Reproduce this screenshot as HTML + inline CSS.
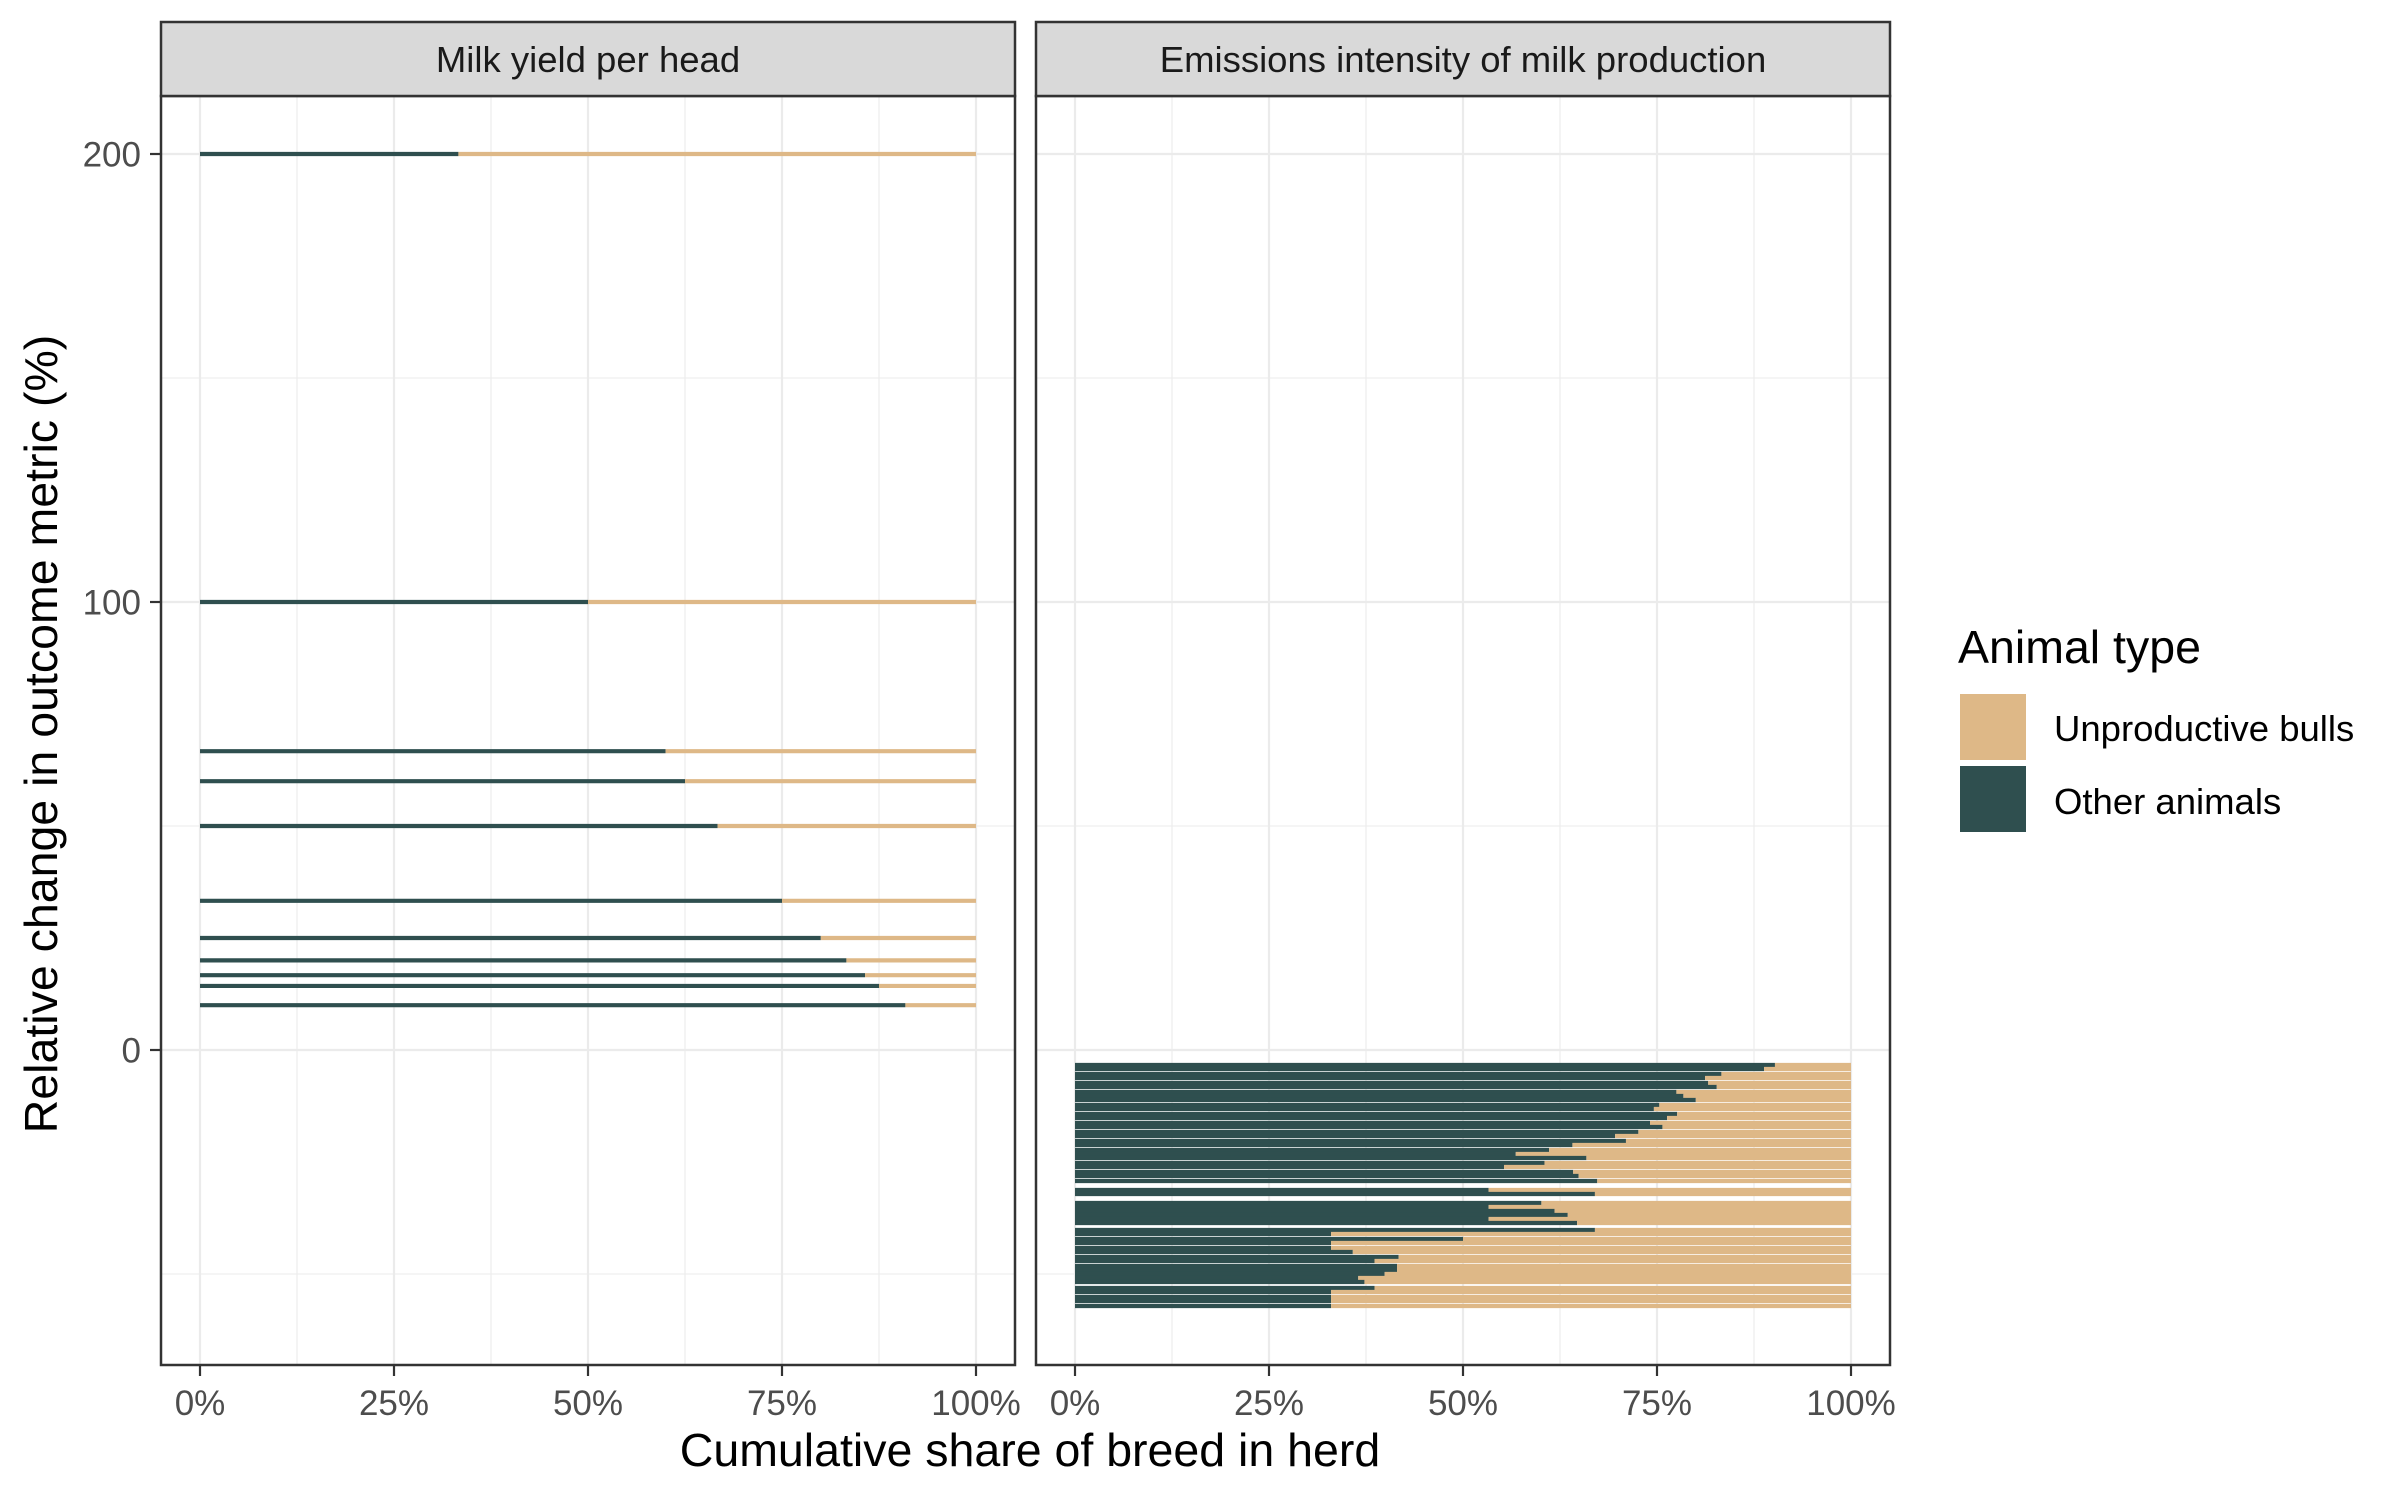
<!DOCTYPE html>
<html><head><meta charset="utf-8"><style>
html,body{margin:0;padding:0;background:#fff;}
svg{display:block;font-family:"Liberation Sans",Arial,sans-serif;}
</style></head><body>
<svg id="chart" width="2400" height="1500" viewBox="0 0 2400 1500"></svg>
<script>
// Left panel: milk yield per head
const milkValues = [200, 100, 66.7, 60, 50, 33.3, 25, 20, 16.7, 14.3, 10];
const milkShares = [33.3, 50, 60, 62.5, 66.7, 75, 80, 83.3, 85.7, 87.5, 90.9];
// Right panel: emissions intensity
const emisValues = [-3.35,-4.24,-5.36,-6.25,-7.37,-8.26,-9.38,-10.27,-11.16,-12.28,-13.17,-14.29,-15.18,-16.29,-17.19,-18.30,-19.20,-20.31,-21.21,-22.32,-23.21,-24.11,-25.22,-26.12,-27.23,-28.13,-29.24,-31.25,-32.14,-34.15,-35.04,-35.94,-36.83,-37.72,-38.62,-40.18,-41.07,-42.19,-43.08,-44.20,-45.09,-46.21,-47.10,-48.21,-49.11,-50.0,-50.89,-51.79,-53.13,-54.02,-55.13,-56.03,-57.14];
const emisShares = [90.2,88.8,83.3,81.2,81.6,82.7,77.5,78.4,80.0,75.3,74.6,77.6,76.3,74.1,75.7,72.6,69.6,71.0,64.1,61.1,56.8,65.9,60.5,55.3,64.2,64.9,67.3,53.3,67.0,60.1,53.3,61.8,63.5,53.3,64.7,67.0,33.0,50.0,33.0,33.0,35.8,41.7,38.6,41.5,41.5,39.9,36.5,37.3,38.6,33.0,33.0,33.0,33.0];
const xTicks = [0,25,50,75,100];
const xTickLabels = ["0%","25%","50%","75%","100%"];
const yTicks = [0,100,200];
const yTickLabels = ["0","100","200"];
const yMinor = [-50,50,150];
const panelTitles = ["Milk yield per head","Emissions intensity of milk production"];

const NS="http://www.w3.org/2000/svg";
const svgEl=document.getElementById('chart');
function mk(tag,attrs,parent){const e=document.createElementNS(NS,tag);for(const k in attrs)e.setAttribute(k,attrs[k]);(parent||svgEl).appendChild(e);return e;}
const DARK="#2f4f4f", TAN="#deb887";
const plotTop=96, plotBottom=1365;
const yS=v=>1050-4.48*v;
const panels=[{l:161,r:1015},{l:1036,r:1890}];
function xs(p,s){return p.l+39+(p.r-p.l-78)*s/100;}

panels.forEach((p,i)=>{
  const g=mk('g',{});
  
  
  yMinor.forEach(v=>{const l=mk('line',{x1:p.l,x2:p.r,y1:yS(v),y2:yS(v),stroke:'#ebebeb','stroke-width':1.1},g);
    
    });
  [12.5,37.5,62.5,87.5].forEach(s=>{const l=mk('line',{x1:xs(p,s),x2:xs(p,s),y1:plotTop,y2:plotBottom,stroke:'#ebebeb','stroke-width':1.1},g);
    
    });
  yTicks.forEach(v=>{const l=mk('line',{x1:p.l,x2:p.r,y1:yS(v),y2:yS(v),stroke:'#ebebeb','stroke-width':2.2},g);
    
    });
  xTicks.forEach((s,k)=>{
    const l=mk('line',{x1:xs(p,s),x2:xs(p,s),y1:plotTop,y2:plotBottom,stroke:'#ebebeb','stroke-width':2.2},g);
    
    
    const t=mk('line',{x1:xs(p,s),x2:xs(p,s),y1:plotBottom,y2:plotBottom+11,stroke:'#333','stroke-width':2.2},g);
    
    
    const tx=mk('text',{x:xs(p,s),y:1415,'text-anchor':'middle','font-size':35,fill:'#4d4d4d'},g);tx.textContent=xTickLabels[k];
    
    
  });
  const vals=i===0?milkValues:emisValues, sh=i===0?milkShares:emisShares;
  vals.forEach((v,k)=>{
    const a=mk('line',{x1:xs(p,0),x2:xs(p,sh[k]),y1:yS(v),y2:yS(v),stroke:DARK,'stroke-width':4.2},g);
    
    
    const b=mk('line',{x1:xs(p,sh[k]),x2:xs(p,100),y1:yS(v),y2:yS(v),stroke:TAN,'stroke-width':4.2},g);
    
    
  });
  const br=mk('rect',{x:p.l,y:plotTop,width:p.r-p.l,height:plotBottom-plotTop,fill:'none',stroke:'#333','stroke-width':2.5},g);
  
  
  const st=mk('rect',{x:p.l,y:22,width:p.r-p.l,height:plotTop-22,fill:'#d9d9d9',stroke:'#333','stroke-width':2.5},g);
  
  
  const stt=mk('text',{x:(p.l+p.r)/2,y:72,'text-anchor':'middle','font-size':36.5,fill:'#1a1a1a'},g);stt.textContent=panelTitles[i];
  
  
});
yTicks.forEach((v,k)=>{
  const t=mk('line',{x1:150,x2:161,y1:yS(v),y2:yS(v),stroke:'#333','stroke-width':2.2});
  
  
  const tx=mk('text',{x:141,y:yS(v)+12.5,'text-anchor':'end','font-size':35,fill:'#4d4d4d'});tx.textContent=yTickLabels[k];
  
  
});
</script>
<svg style="position:absolute;left:0;top:0" width="2400" height="1500">
<text x="1030" y="1466" text-anchor="middle" font-size="46.5" fill="#000" font-family="Liberation Sans, sans-serif">Cumulative share of breed in herd</text>
<text transform="translate(57,734) rotate(-90)" text-anchor="middle" font-size="46.5" fill="#000" font-family="Liberation Sans, sans-serif">Relative change in outcome metric (%)</text>
<g font-family="Liberation Sans, sans-serif">
<text x="1958" y="663" font-size="46.5" fill="#000">Animal type</text>
<rect x="1960" y="694" width="66" height="66" fill="#deb887"/>
<text x="2054" y="741" font-size="36.5" fill="#000">Unproductive bulls</text>
<rect x="1960" y="766" width="66" height="66" fill="#2f4f4f"/>
<text x="2054" y="814" font-size="36.5" fill="#000">Other animals</text>
</g>
</svg>
</body></html>
